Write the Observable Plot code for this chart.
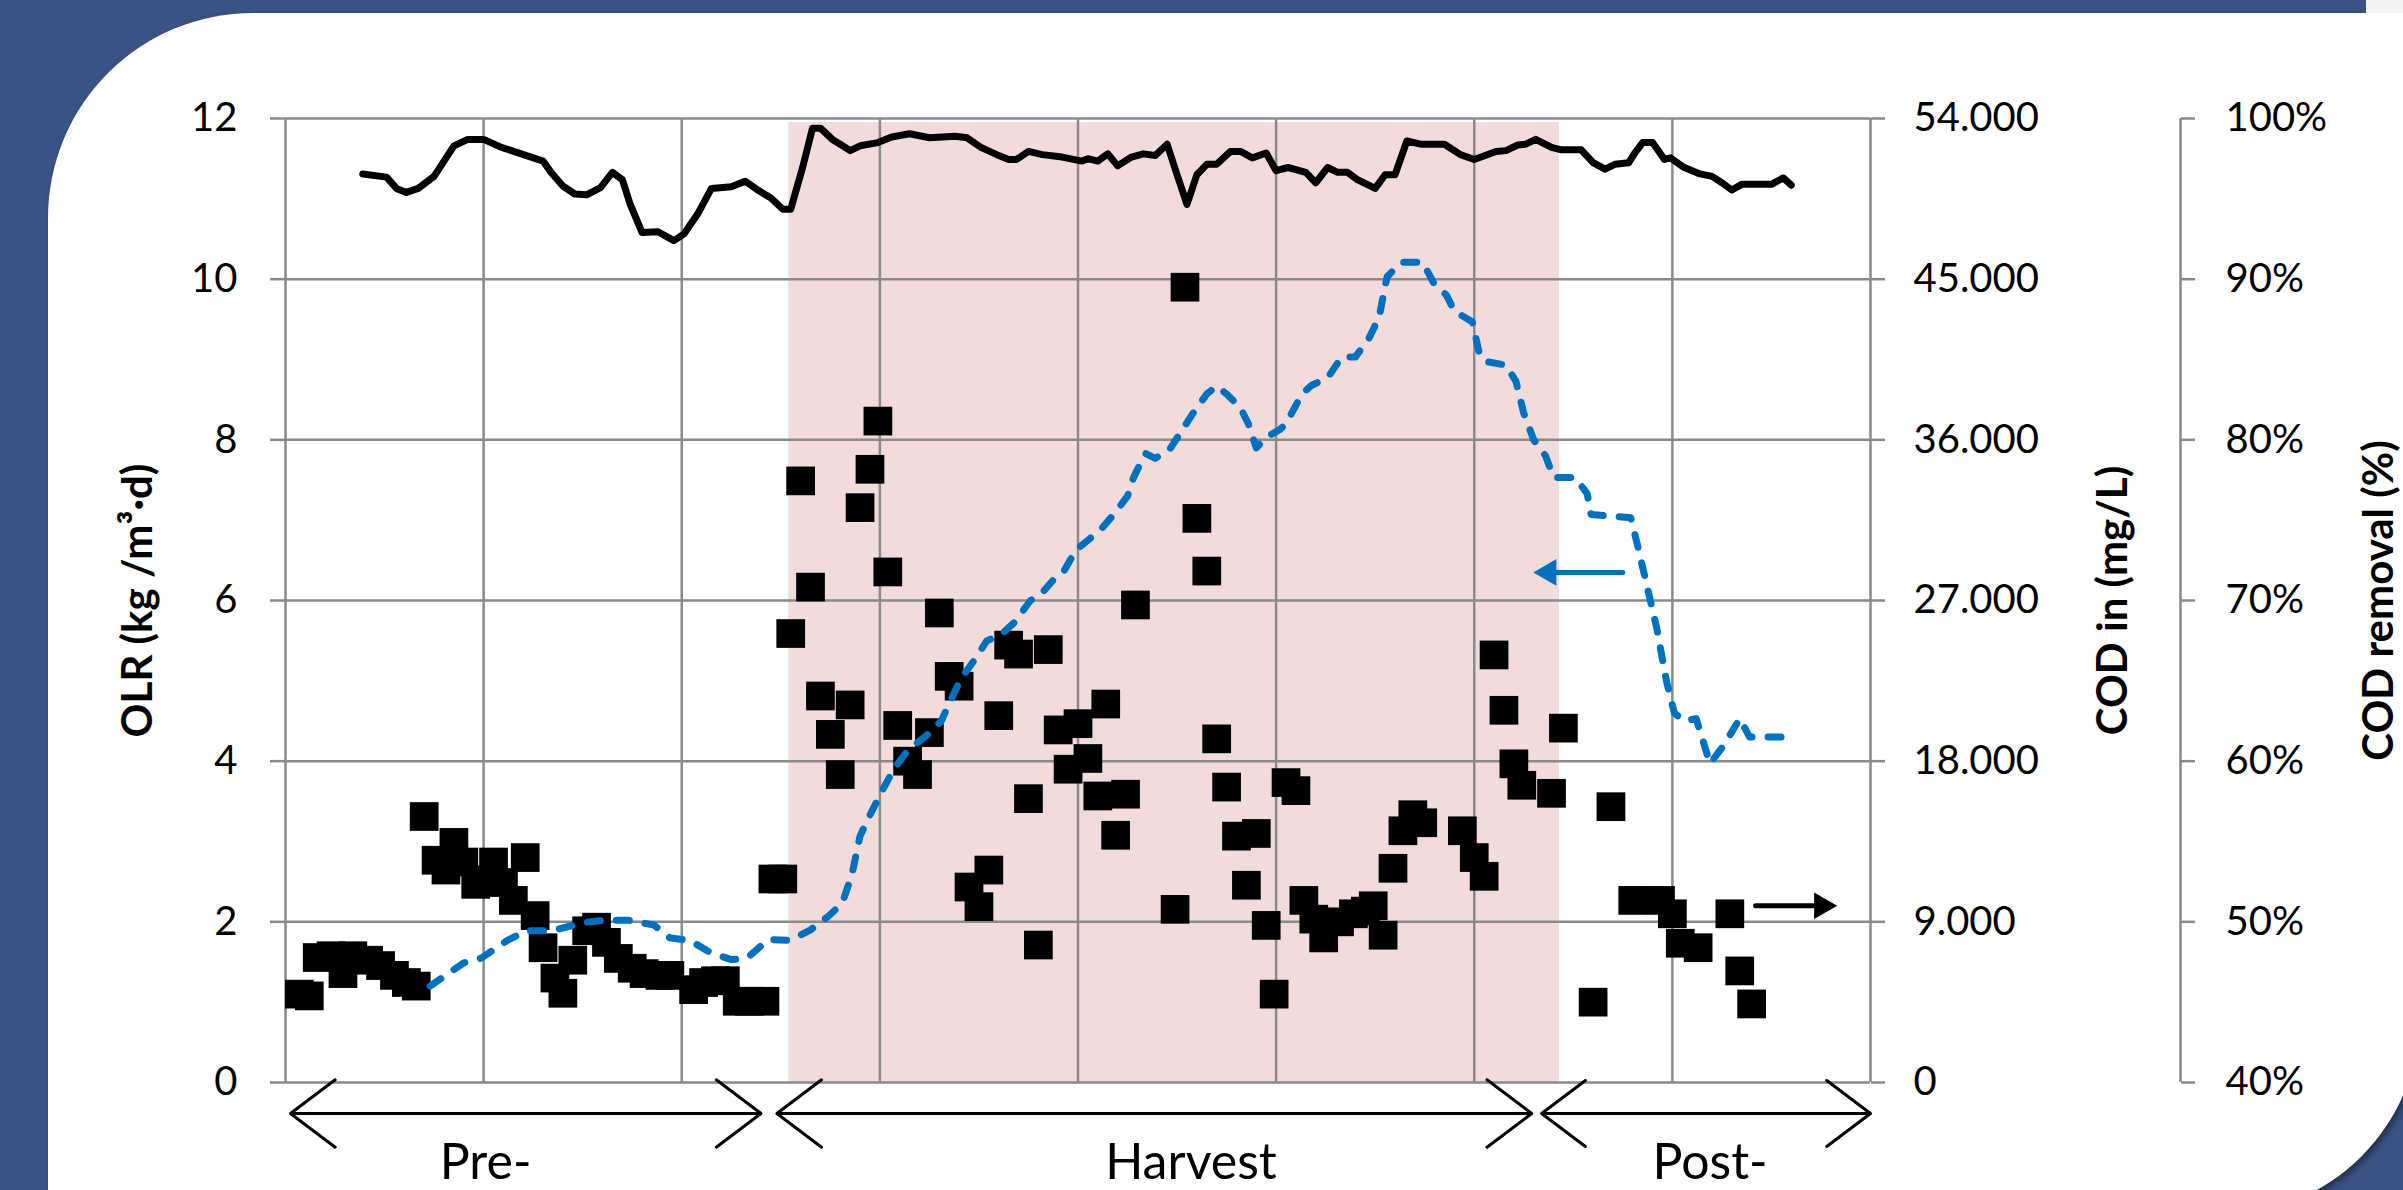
<!DOCTYPE html>
<html><head><meta charset="utf-8">
<script src="https://cdn.jsdelivr.net/npm/d3@7"></script>
<script src="https://cdn.jsdelivr.net/npm/@observablehq/plot@0.6"></script>
<style>
html,body{margin:0;padding:0;width:2403px;height:1190px;overflow:hidden;background:#3b5384;}
#panel{position:absolute;left:48px;top:13px;width:2372px;height:1202px;background:#fff;border-top-left-radius:205px;border-bottom-right-radius:200px;box-shadow:3px 3px 7px rgba(0,0,0,0.45);}
#corner{position:absolute;left:2366px;top:0;width:37px;height:13px;background:#f3f3f3;}
#chart{position:absolute;left:0;top:0;}
</style></head><body>
<div id="panel"></div><div id="corner"></div><div id="chart"></div>
<script>
// ---- axis ticks ----
const xTicks = [0, 20, 40, 60, 80, 100, 120, 140, 160];
const olrTicks = [0, 2, 4, 6, 8, 10, 12];
const codTicks = [0, 9000, 18000, 27000, 36000, 45000, 54000];
const remTicks = [40, 50, 60, 70, 80, 90, 100];

// ---- COD in (mg/L), black squares ----
const codDay = [1.4,2.4,3.2,4.6,5.8,6.8,8.4,9.6,11.0,12.2,13.2,14.0,15.2,16.2,17.0,18.0,19.2,20.6,21.0,22.0,23.0,24.2,25.2,26.0,27.2,28.0,29.0,30.4,31.4,32.4,33.6,35.0,36.2,37.8,38.8,41.2,42.2,43.4,44.4,45.6,46.8,48.4,49.2,50.2,
  51,52,53,54,55,56,57,58,59,59.8,60.8,61.8,62.8,63.8,65,66,67,68,69,70,71,72,73,74,75,76,77,78,79,80,81,82,82.8,83.8,84.8,85.8,89.8,90.8,92,93,94,95,96,97,98,99,99.8,101,102,102.8,103.8,104.8,106.4,107.8,109,109.8,110.8,111.8,112.8,113.8,114.8,118.8,120,121,122,123,124,124.8,127.8,129,132,133.8,136,138.8,140,140.8,142.6,145.8,146.8,148];
const codIn = [4950,4850,7000,7100,6100,7100,6850,6550,6000,5600,5400,14900,12450,11900,13450,12350,11100,11350,12350,11200,10200,12600,9350,7550,5850,5000,6850,8500,8700,7850,6950,6400,6100,6000,6000,5200,5600,5700,5700,4550,4550,4550,11400,11400,
  25150,33700,27750,21650,19500,17250,21150,32200,34350,37050,28600,20000,18000,17250,19600,26300,22750,22200,10950,9850,11900,20550,24500,24000,15900,7700,24250,19750,17550,20100,18150,16050,21200,13850,16150,26750,9700,44550,31600,28650,19250,16550,13800,11050,13950,8800,4950,16800,16350,10200,9150,8100,9000,9450,9600,9900,8250,12000,14100,15000,14550,14100,12600,11550,23950,20850,17850,16650,16200,19850,4500,15450,10200,10200,9450,7800,7550,9450,6250,4400];

// ---- OLR (kg/m3.d), blue dashed ----
const olrDay = [14.6,18.0,19.8,22.4,24.4,27.0,30.0,32.2,34.6,37.2,38.8,40.8,43.0,45.0,46.6,47.8,48.8,51.0,53.0,54.8,56.2,57.2,58.0,59.0,60.4,61.4,62.8,64.8,66.2,67.2,68.2,69.6,70.8,72.2,73.6,75.2,76.2,77.6,78.6,79.8,81.2,82.2,83.6,85.0,85.6,86.8,87.8,89.2,90.4,91.6,93.0,94.0,95.0,96.4,97.2,98.0,99.0,100.4,101.0,102.6,103.6,105.2,106.6,108.0,109.4,110.4,111.2,112.6,114.8,116.0,117.2,118.0,119.8,120.6,121.4,123.2,124.2,125.0,126.0,127.2,128.0,130.2,131.4,131.8,135.8,136.4,137.4,138.4,139.4,140.2,141.2,142.4,143.8,145.2,146.8,147.8,151.8];
const olr = [1.20,1.49,1.55,1.77,1.89,1.89,1.99,2.02,2.02,1.96,1.80,1.77,1.61,1.53,1.55,1.68,1.78,1.77,1.90,2.07,2.23,2.60,3.07,3.33,3.67,3.90,4.13,4.33,4.50,4.77,5.03,5.27,5.50,5.57,5.73,6.00,6.07,6.27,6.37,6.63,6.77,6.87,7.07,7.30,7.53,7.83,7.77,7.87,8.10,8.33,8.57,8.67,8.57,8.40,8.20,7.90,8.03,8.13,8.20,8.57,8.68,8.77,9.03,9.03,9.27,9.53,10.03,10.21,10.21,9.93,9.80,9.60,9.47,9.03,8.97,8.93,8.73,8.33,8.00,7.80,7.53,7.53,7.33,7.07,7.03,6.73,6.20,5.67,5.00,4.60,4.50,4.53,3.97,4.20,4.53,4.30,4.30];

// ---- COD removal (%), black line ----
const remDay = [7.8,10.2,11.2,12.2,13.4,15.0,16.0,17.0,18.4,20.0,21.8,23.8,26.0,26.8,28.0,29.2,30.4,31.8,33.0,34.0,34.8,36.0,37.6,39.2,40.2,41.6,43.0,45.0,46.4,47.8,49.0,50.2,51.0,52.2,53.2,54.0,55.2,56.0,57.0,58.0,59.8,61.2,63.0,65.0,67.6,68.8,70.2,71.8,73.0,73.8,75.0,76.4,78.4,80.4,81.0,82.0,83.0,84.0,85.4,86.6,87.8,89.0,90.0,91.0,92.0,93.0,94.0,95.4,96.4,97.6,99.0,100.0,101.2,103.0,104.0,105.2,106.2,107.2,108.2,110.0,111.0,112.0,113.2,114.6,117.0,118.6,120.0,122.2,123.2,124.4,125.2,126.2,127.8,128.8,130.8,132.0,133.2,134.2,135.6,136.2,137.0,138.0,139.2,139.8,141.2,142.8,144.0,145.0,146.0,147.0,150.0,151.2,152.0];
const removal = [96.55,96.35,95.65,95.4,95.65,96.4,97.35,98.3,98.7,98.7,98.2,97.8,97.35,96.65,95.8,95.3,95.25,95.7,96.65,96.2,94.65,92.9,92.95,92.4,92.8,94.05,95.65,95.75,96.1,95.5,95.05,94.35,94.35,96.95,99.4,99.4,98.7,98.4,98.0,98.3,98.5,98.85,99.05,98.8,98.9,98.8,98.2,97.75,97.45,97.45,97.95,97.75,97.6,97.35,97.5,97.35,97.8,97.05,97.6,97.8,97.7,98.4,96.5,94.65,96.5,97.15,97.15,97.95,97.95,97.55,97.85,96.75,96.95,96.65,96.0,96.95,96.65,96.65,96.2,95.65,96.5,96.5,98.6,98.4,98.4,97.75,97.45,97.95,98.0,98.35,98.4,98.7,98.2,98.05,98.05,97.25,96.85,97.15,97.25,97.85,98.5,98.5,97.45,97.55,96.95,96.55,96.4,96.0,95.55,95.9,95.9,96.3,95.85];

// ---- harvest band and phase annotations ----
const harvestBand = [{x1: 50.8, x2: 128.6, y1: 0, y2: 11.95}];
const phases = ["Pre-", "Harvest", "Post-"];
const phaseStart = [0.5, 49.6, 126.8];
const phaseEnd = [48.0, 125.8, 160.0];
const phaseLabelX = [20.2, 91.4, 143.8];
const phaseArrowY = -0.386;
const phaseLabelY = -1.0;

// ---- series pointer arrows (blue -> left axis, black -> COD in axis) ----
const leftPointer = {from: 135.0, to: 126.0, y: 6.35, color: "#0070C0"};
const rightPointer = {from: 148.4, to: 156.6, y: 2.20, color: "#000000"};

// ---- titles ----
const titleOLR = "OLR (kg /m³·d)";
const titleCOD = "COD in (mg/L)";
const titleRem = "COD removal (%)";

const codToY = c => c / 4500;
const remToY = r => (r - 40) / 5;
const fmtCod = d3.formatLocale({decimal: ",", thousands: ".", grouping: [3], currency: ["", ""]}).format(",d");

const GRID = "#8a8a8a";
const idx = a => a.map((_, i) => i);

function pointerMarks(p, dir) {
  return [
    Plot.arrow([p], {x1: d => d.from, x2: d => d.to, y1: d => d.y, y2: d => d.y, stroke: p.color, strokeWidth: 5, headLength: 0, insetEnd: 20}),
    Plot.dot([p], {x: d => d.to, y: d => d.y, symbol: "triangle", r: 9.9, fill: p.color, stroke: null, rotate: dir, dx: dir < 0 ? 15 : -15})
  ];
}

const chart = Plot.plot({
  width: 2403, height: 1190,
  marginLeft: 285, marginRight: 533, marginTop: 118, marginBottom: 108,
  x: {domain: [0, 160], axis: null},
  y: {domain: [0, 12], axis: null},
  style: {fontFamily: "Lato, sans-serif", fontSize: "40px", background: "transparent", color: "#000"},
  marks: [
    Plot.rect(harvestBand, {x1: "x1", x2: "x2", y1: "y1", y2: "y2", fill: "#F2DCDB"}),
    Plot.gridX(xTicks, {stroke: GRID, strokeOpacity: 1, strokeWidth: 2.5}),
    Plot.gridY(olrTicks, {stroke: GRID, strokeOpacity: 1, strokeWidth: 2.5}),
    Plot.axisY(olrTicks, {anchor: "left", tickSize: 15, tickPadding: 33, stroke: GRID, strokeWidth: 2.5, fill: "#000", fontSize: 40, label: null, tickFormat: d => String(d)}),
    Plot.axisY(codTicks.map(codToY), {anchor: "right", tickSize: 14, tickPadding: 29, stroke: GRID, strokeWidth: 2.5, fill: "#000", fontSize: 40, label: null, tickFormat: v => fmtCod(Math.round(v * 4500))}),
    Plot.axisY(remTicks.map(remToY), {anchor: "right", dx: 310, tickSize: 14, tickPadding: 31, stroke: GRID, strokeWidth: 2.5, fill: "#000", fontSize: 40, label: null, tickFormat: v => Math.round(v * 5 + 40) + "%"}),
    Plot.ruleX([160], {dx: 310, y1: 0, y2: 12, stroke: GRID, strokeWidth: 2.5}),
    Plot.dot(codIn, {x: codDay, y: codIn.map(codToY), symbol: "square", r: 16.2, fill: "#000", stroke: null}),
    Plot.line(olr, {x: olrDay, y: olr, stroke: "#0070C0", strokeWidth: 7, strokeDasharray: "13,16", strokeLinecap: "round", strokeLinejoin: "round"}),
    Plot.line(removal, {x: remDay, y: removal.map(remToY), stroke: "#000", strokeWidth: 7, strokeLinecap: "round", strokeLinejoin: "round"}),
    ...pointerMarks(leftPointer, -90),
    ...pointerMarks(rightPointer, 90),
    // phase arrows
    Plot.arrow(idx(phases), {x1: i => (phaseStart[i] + phaseEnd[i]) / 2, x2: i => phaseStart[i], y1: phaseArrowY, y2: phaseArrowY, stroke: "#000", strokeWidth: 3, headLength: 28, headAngle: 74}),
    Plot.arrow(idx(phases), {x1: i => (phaseStart[i] + phaseEnd[i]) / 2, x2: i => phaseEnd[i], y1: phaseArrowY, y2: phaseArrowY, stroke: "#000", strokeWidth: 3, headLength: 28, headAngle: 74}),
    Plot.text(phases, {x: phaseLabelX, y: phaseLabelY, text: d => d, fontSize: 50, fill: "#000"}),
    // axis titles
    Plot.text([titleOLR], {frameAnchor: "left", dx: -147, rotate: -90, textAnchor: "middle", text: d => d, fontWeight: "bold", fontSize: 42, fill: "#000"}),
    Plot.text([titleCOD], {frameAnchor: "right", dx: 243, rotate: -90, textAnchor: "middle", text: d => d, fontWeight: "bold", fontSize: 42, fill: "#000"}),
    Plot.text([titleRem], {frameAnchor: "right", dx: 509, rotate: -90, textAnchor: "middle", text: d => d, fontWeight: "bold", fontSize: 42, fill: "#000"})
  ]
});
document.getElementById("chart").appendChild(chart);
</script></body></html>
